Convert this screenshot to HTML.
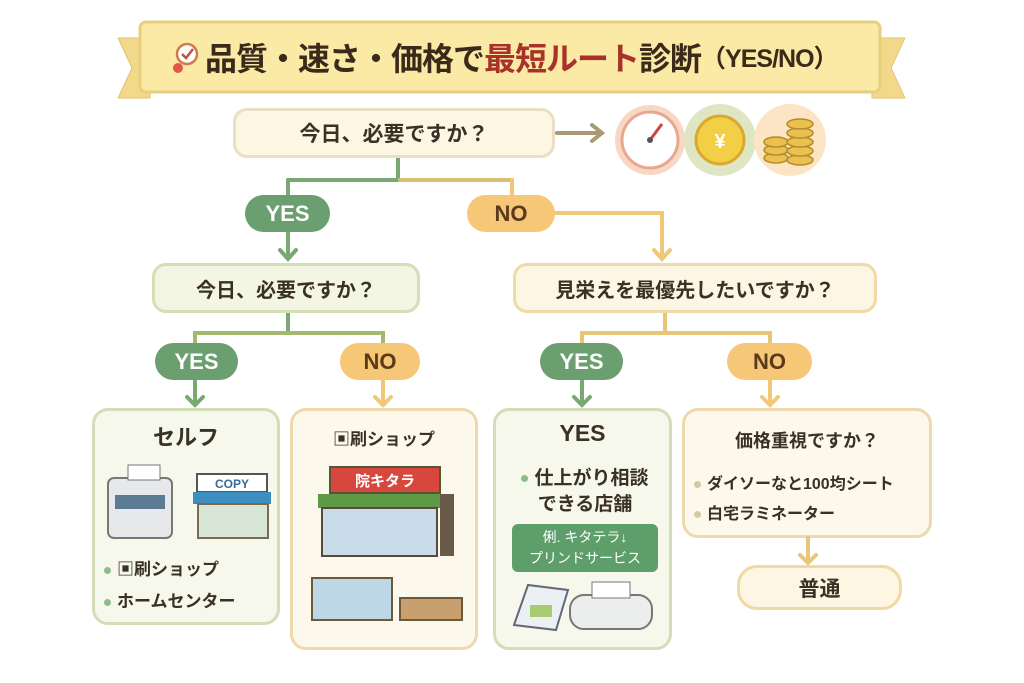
<!DOCTYPE html>
<html><head><meta charset="utf-8"><style>
body{margin:0;width:1024px;height:683px;background:#fff;position:relative;overflow:hidden;font-family:"Liberation Sans","Noto Sans CJK JP",sans-serif;color:#3a3026}
.a{position:absolute;box-sizing:border-box}
.box{display:flex;align-items:center;justify-content:center;border-radius:14px;font-weight:bold}
.pill{display:flex;align-items:center;justify-content:center;border-radius:20px;font-weight:bold;font-size:22px}
.g{background:#6b9f6f;color:#fff}
.y{background:#f5c777;color:#5a3a1a}
.card{border-radius:16px;border:3px solid #d3ddb8;background:#f6f8ec}
.cardo{border-radius:16px;border:3px solid #efd8ad;background:#fdf8ec}
.li{font-size:17px;font-weight:bold;position:absolute;white-space:nowrap}
.dot{display:inline-block;width:7px;height:7px;border-radius:50%;background:#8dbb8d;margin-right:6px;vertical-align:middle}
</style></head><body>
<svg class="a" style="left:0;top:0" width="1024" height="683">
<polygon points="118,38 150,38 150,98 118,98 132,68" fill="#f2d98a" stroke="#e0c46e"/>
<polygon points="905,38 872,38 872,98 905,98 891,68" fill="#f2d98a" stroke="#e0c46e"/>
<rect x="140" y="22" width="740" height="70" rx="6" fill="#fbe9a6" stroke="#e8cf7e" stroke-width="3"/>
<g fill="none" stroke-width="4" stroke-linecap="round">
<line x1="557" y1="133" x2="600" y2="133" stroke="#a89a72"/>
<polyline points="592,125 602,133 592,141" stroke="#a89a72"/>
<line x1="398" y1="158" x2="398" y2="180" stroke="#7aa872"/>
<line x1="288" y1="180" x2="400" y2="180" stroke="#7aa872"/>
<line x1="400" y1="180" x2="512" y2="180" stroke="#d9c070"/>
<line x1="288" y1="180" x2="288" y2="197" stroke="#7aa872"/>
<line x1="512" y1="180" x2="512" y2="197" stroke="#f0c878"/>
<line x1="288" y1="232" x2="288" y2="258" stroke="#7aa872"/>
<polyline points="280,250 288,259 296,250" stroke="#7aa872"/>
<polyline points="555,213 662,213 662,258" stroke="#f0c878"/>
<polyline points="654,250 662,259 670,250" stroke="#f0c878"/>
<polyline points="288,313 288,333" stroke="#7aa872"/>
<polyline points="195,345 195,333 383,333 383,345" stroke="#a5b870"/>
<polyline points="665,313 665,333" stroke="#e8c678"/>
<polyline points="582,345 582,333 770,333 770,345" stroke="#e8c678"/>
<line x1="195" y1="380" x2="195" y2="404" stroke="#7aa872"/><polyline points="187,397 195,405 203,397" stroke="#7aa872"/>
<line x1="383" y1="380" x2="383" y2="404" stroke="#f0c878"/><polyline points="375,397 383,405 391,397" stroke="#f0c878"/>
<line x1="582" y1="380" x2="582" y2="404" stroke="#7aa872"/><polyline points="574,397 582,405 590,397" stroke="#7aa872"/>
<line x1="770" y1="380" x2="770" y2="404" stroke="#f0c878"/><polyline points="762,397 770,405 778,397" stroke="#f0c878"/>
<line x1="808" y1="538" x2="808" y2="562" stroke="#e8c678"/><polyline points="800,555 808,563 816,555" stroke="#e8c678"/>
</g>
<circle cx="650" cy="140" r="35" fill="#f8d8c4"/><circle cx="650" cy="140" r="28" fill="#fff" stroke="#e8a890" stroke-width="3"/>
<line x1="650" y1="140" x2="662" y2="124" stroke="#d0453a" stroke-width="3"/><circle cx="650" cy="140" r="3" fill="#555"/>
<circle cx="720" cy="140" r="36" fill="#dfe6c4"/><circle cx="720" cy="140" r="24" fill="#f3cf45" stroke="#d9a830" stroke-width="3"/>
<text x="720" y="148" font-size="20" text-anchor="middle" fill="#fff" font-weight="bold">¥</text>
<circle cx="790" cy="140" r="36" fill="#fbe5c4"/>
<g fill="#eac050" stroke="#b58a2a" stroke-width="1.5">
<ellipse cx="776" cy="158" rx="12" ry="5"/><ellipse cx="776" cy="150" rx="12" ry="5"/><ellipse cx="776" cy="142" rx="12" ry="5"/>
<ellipse cx="800" cy="160" rx="13" ry="5"/><ellipse cx="800" cy="151" rx="13" ry="5"/><ellipse cx="800" cy="142" rx="13" ry="5"/><ellipse cx="800" cy="133" rx="13" ry="5"/><ellipse cx="800" cy="124" rx="13" ry="5"/></g>
<circle cx="187" cy="54" r="10" fill="#fff" stroke="#d07a50" stroke-width="2.5"/><polyline points="182,54 186,58 193,49" fill="none" stroke="#c05040" stroke-width="2.5"/>
<circle cx="178" cy="68" r="5" fill="#e05a4a"/>
<rect x="108" y="478" width="64" height="60" rx="6" fill="#e6e8ea" stroke="#777" stroke-width="2"/><rect x="115" y="495" width="50" height="14" fill="#5c7c94"/><rect x="128" y="465" width="32" height="15" fill="#fff" stroke="#777"/>
<rect x="197" y="474" width="70" height="18" fill="#fff" stroke="#555" stroke-width="2"/><text x="232" y="488" font-size="12" font-weight="bold" text-anchor="middle" fill="#3a6a9a">COPY</text>
<rect x="193" y="492" width="78" height="12" fill="#3d8fbf"/><rect x="198" y="504" width="70" height="34" fill="#d8e6d8" stroke="#7a6a50" stroke-width="2"/>
<rect x="330" y="467" width="110" height="26" fill="#d8473e" stroke="#553" stroke-width="2"/><text x="385" y="486" font-size="15" font-weight="bold" text-anchor="middle" fill="#fff">院キタラ</text>
<rect x="318" y="494" width="122" height="14" fill="#5e9a46"/><rect x="322" y="508" width="115" height="48" fill="#c8dcea" stroke="#5a4a3a" stroke-width="2"/>
<rect x="440" y="494" width="14" height="62" fill="#6a5a4a"/>
<rect x="312" y="578" width="80" height="42" fill="#bfd8e8" stroke="#6a5a3a" stroke-width="2"/><rect x="400" y="598" width="62" height="22" fill="#c8a070" stroke="#6a5a3a" stroke-width="2"/>
<polygon points="514,625 528,585 568,590 556,630" fill="#eaf0f4" stroke="#667" stroke-width="2"/><rect x="530" y="605" width="22" height="12" fill="#a8cc70"/>
<rect x="570" y="595" width="82" height="34" rx="14" fill="#eceeee" stroke="#777" stroke-width="2"/><rect x="592" y="582" width="38" height="16" fill="#fff" stroke="#777"/>
</svg>
<div class="a" style="left:205px;top:22px;width:670px;height:70px;display:flex;align-items:center;justify-content:flex-start;font-size:32px;font-weight:bold;color:#3a2a1a;white-space:nowrap;letter-spacing:-1px">品質・速さ・価格で<span style="color:#a8322a">最短ルート</span>診断<span style="font-size:25px">（YES/NO）</span></div>
<div class="a box" style="left:233px;top:108px;width:322px;height:50px;background:#fdf6e2;border:3px solid #eadfc4;font-size:21px">今日、必要ですか？</div>
<div class="a pill g" style="left:245px;top:195px;width:85px;height:37px">YES</div>
<div class="a pill y" style="left:467px;top:195px;width:88px;height:37px">NO</div>
<div class="a box" style="left:152px;top:263px;width:268px;height:50px;background:#f2f6e2;border:3px solid #d3dfb6;font-size:20px">今日、必要ですか？</div>
<div class="a box" style="left:513px;top:263px;width:364px;height:50px;background:#fdf6e4;border:3px solid #f0dba8;font-size:20px">見栄えを最優先したいですか？</div>
<div class="a pill g" style="left:155px;top:343px;width:83px;height:37px">YES</div>
<div class="a pill y" style="left:340px;top:343px;width:80px;height:37px">NO</div>
<div class="a pill g" style="left:540px;top:343px;width:83px;height:37px">YES</div>
<div class="a pill y" style="left:727px;top:343px;width:85px;height:37px">NO</div>
<div class="a card" style="left:92px;top:408px;width:188px;height:217px;z-index:-1"></div>
<div class="a" style="left:92px;top:420px;width:188px;text-align:center;font-size:22px;font-weight:bold">セルフ</div>
<div class="li" style="left:104px;top:555px"><span class="dot"></span>▣刷ショップ</div>
<div class="li" style="left:104px;top:587px"><span class="dot"></span>ホームセンター</div>
<div class="a cardo" style="left:290px;top:408px;width:188px;height:242px;z-index:-1"></div>
<div class="a" style="left:290px;top:425px;width:188px;text-align:center;font-size:17px;font-weight:bold">▣刷ショップ</div>
<div class="a card" style="left:493px;top:408px;width:179px;height:242px;z-index:-1"></div>
<div class="a" style="left:493px;top:420px;width:179px;text-align:center;font-size:23px;font-weight:bold">YES</div>
<div class="a" style="left:500px;top:466px;width:170px;text-align:center;font-size:19px;font-weight:bold;line-height:26px"><span class="dot"></span>仕上がり相談<br>できる店舗</div>
<div class="a" style="left:512px;top:524px;width:146px;height:48px;background:#5e9e6a;border-radius:6px;color:#fff;font-size:14px;text-align:center;line-height:21px;padding-top:3px">俐. キタテラ↓<br>プリンドサービス</div>
<div class="a cardo" style="left:682px;top:408px;width:250px;height:130px;z-index:-1"></div>
<div class="a" style="left:682px;top:427px;width:250px;text-align:center;font-size:18px;font-weight:bold">価格重視ですか？</div>
<div class="li" style="left:694px;top:470px;font-size:16px"><span class="dot" style="background:#d8c8a0"></span>ダイソーなと100均シート</div>
<div class="li" style="left:694px;top:500px;font-size:16px"><span class="dot" style="background:#d8c8a0"></span>白宅ラミネーター</div>
<div class="a box" style="left:737px;top:565px;width:165px;height:45px;background:#fdf6e2;border:3px solid #f0d9a2;border-radius:20px;font-size:21px">普通</div>
</body></html>
